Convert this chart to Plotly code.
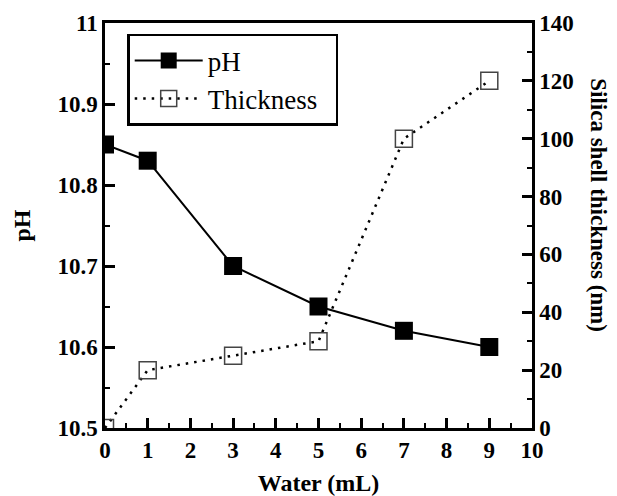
import plotly.graph_objects as go

water = [0, 1, 3, 5, 7, 9]
ph = [10.85, 10.83, 10.70, 10.65, 10.62, 10.60]
thickness = [0, 20, 25, 30, 100, 120]

x_ticks = [0, 1, 2, 3, 4, 5, 6, 7, 8, 9, 10]
ph_ticks = [10.5, 10.6, 10.7, 10.8, 10.9, 11.0]
ph_ticktext = ["10.5", "10.6", "10.7", "10.8", "10.9", "11"]
th_ticks = [0, 20, 40, 60, 80, 100, 120, 140]

FONT = "Liberation Serif"
TICKSIZE = 23
TITLESIZE = 24


def bold(labels):
    return ["<b>%s</b>" % s for s in labels]


fig = go.Figure()
fig.add_trace(go.Scatter(
    x=water, y=ph, name="pH", mode="lines+markers",
    line=dict(color="black", width=2),
    marker=dict(symbol="square", size=18, color="black"),
    cliponaxis=True,
))
fig.add_trace(go.Scatter(
    x=water, y=thickness, name="Thickness\u00a0\u00a0", mode="lines+markers",
    yaxis="y2",
    line=dict(color="black", width=2.5, dash="2.5px,6px"),
    marker=dict(symbol="square-open", size=17, color="#444444", line=dict(width=1.5)),
    cliponaxis=True,
))

axis_common = dict(
    showline=True, linecolor="black", linewidth=2.5,
    ticks="inside", ticklen=10, tickwidth=2.5, tickcolor="black",
    showgrid=False, zeroline=False, automargin=False,
    tickfont=dict(family=FONT, size=TICKSIZE, color="black", weight="bold"),
)
minor_common = dict(ticks="inside", ticklen=5, tickwidth=2, tickcolor="black")

fig.update_layout(
    width=617, height=496,
    margin=dict(l=97, r=93, t=15, b=76),
    plot_bgcolor="white", paper_bgcolor="white",
    font=dict(family=FONT, color="black"),
    xaxis=dict(
        range=[0, 10], tickvals=x_ticks, ticktext=bold([str(v) for v in x_ticks]), mirror=True,
        minor=dict(dtick=0.5, **minor_common),
        title=dict(text="<b>Water (mL)</b>", font=dict(family=FONT, size=TITLESIZE), standoff=12),
        **axis_common,
    ),
    yaxis=dict(
        range=[10.5, 11.0], tickvals=ph_ticks, ticktext=bold(ph_ticktext),
        minor=dict(dtick=0.05, **minor_common),
        title=dict(text="<b>pH</b>", font=dict(family=FONT, size=TITLESIZE), standoff=21),
        **axis_common,
    ),
    yaxis2=dict(
        range=[0, 140], tickvals=th_ticks, ticktext=bold([str(v) for v in th_ticks]),
        overlaying="y", side="right",
        minor=dict(dtick=10, **minor_common),
        **axis_common,
    ),
    legend=dict(
        x=0.052, y=0.973, xanchor="left", yanchor="top",
        bgcolor="white", bordercolor="black", borderwidth=2.5,
        font=dict(family=FONT, size=27, color="black"),
        itemwidth=68, tracegroupgap=0,
    ),
    annotations=[dict(
        text="<b>Silica shell thickness (nm)</b>", textangle=90,
        xref="paper", yref="paper", x=1, y=0.55, xshift=67,
        xanchor="center", yanchor="middle", showarrow=False,
        font=dict(family=FONT, size=23, color="black"),
    )],
)

fig.write_html("out.html")
